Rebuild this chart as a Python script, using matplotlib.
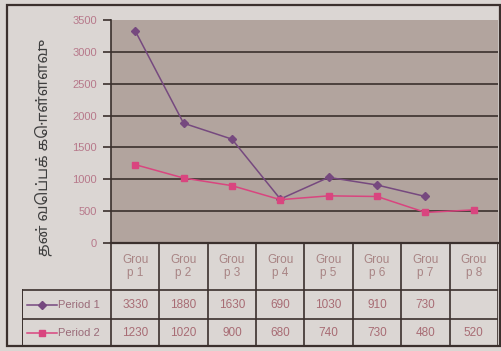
import matplotlib.pyplot as plt
from matplotlib.patches import Rectangle
import numpy as np

# data
groups = ['Grou\np 1', 'Grou\np 2', 'Grou\np 3', 'Grou\np 4',
          'Grou\np 5', 'Grou\np 6', 'Grou\np 7', 'Grou\np 8']
period1 = [3330, 1880, 1630, 690, 1030, 910, 730, np.nan]
period2 = [1230, 1020, 900, 680, 740, 730, 480, 520]
series_names = ['Period 1', 'Period 2']
yticks = [0, 500, 1000, 1500, 2000, 2500, 3000, 3500]
ylabel = 'தன் வெப்பக் கொள்ளளவு'

W, H = 502, 351
bg = '#dbd6d3'
plot_bg = '#b2a49e'
line_col = '#3b302d'
tick_col = '#b7788a'
c1 = '#76497f'
c2 = '#d9457f'

plt.rcParams['font.family'] = ['Liberation Sans', 'DejaVu Sans']

fig = plt.figure(figsize=(W / 100, H / 100), dpi=100)
fig.patch.set_facecolor(bg)


def px(x0, y0, x1, y1):
    return [x0 / W, 1 - y1 / H, (x1 - x0) / W, (y1 - y0) / H]


# outer frame
fig.patches.append(Rectangle((7 / W, 1 - 346 / H), 493 / W, 341 / H,
                             transform=fig.transFigure, fill=False,
                             ec=line_col, lw=1.6))

# main line chart
ax = fig.add_axes(px(111, 20, 498, 243))
ax.set_facecolor(plot_bg)
x = np.arange(len(groups))
ax.plot(x, period1, color=c1, lw=1.1, marker='D', ms=4, mfc=c1, mec=c1)
ax.plot(x, period2, color=c2, lw=1.1, marker='s', ms=5, mfc=c2, mec=c2)
ax.set_xlim(-0.5, len(groups) - 0.5)
ax.set_ylim(0, 3500)
ax.set_yticks(yticks)
ax.set_yticklabels([str(v) for v in yticks], color=tick_col, fontsize=8,
                   fontstretch='condensed')
ax.set_xticks([])
for v in yticks[1:-1]:
    ax.axhline(v, color=line_col, lw=1.2, zorder=1)
ax.tick_params(axis='y', length=6, width=1.2, color=line_col, pad=4)
for s in ['top', 'right']:
    ax.spines[s].set_visible(False)
ax.spines['left'].set_color(line_col)
ax.spines['left'].set_linewidth(1.2)
ax.spines['bottom'].set_color(line_col)
ax.spines['bottom'].set_linewidth(1.6)

fig.text(43 / W, 1 - 147 / H, ylabel, rotation=90, ha='center', va='center',
         fontsize=11, color='#3e3e3e',
         family=['Noto Sans Tamil', 'Lohit Tamil', 'Noto Sans', 'DejaVu Sans'])

# data table underneath
tab = fig.add_axes(px(22, 243, 498, 346))
tab.axis('off')
unit = (498 - 111) / len(groups)
left = -0.5 - (111 - 22) / unit
tab.set_xlim(left, len(groups) - 0.5)
tab.set_ylim(103, 0)
rows = [0, 47, 76, 103]

for i in range(len(groups) + 1):
    tab.plot([i - 0.5, i - 0.5], [rows[0], rows[-1]], color=line_col, lw=1.2)
tab.plot([left, left], [rows[1], rows[-1]], color=line_col, lw=1.4)
for r in rows[1:]:
    tab.plot([left, len(groups) - 0.5], [r, r], color=line_col, lw=1.2)

for i, g in enumerate(groups):
    tab.text(i, (rows[0] + rows[1]) / 2, g, ha='center', va='center',
             fontsize=8.5, color='#a88484', linespacing=1.15)

for k, (vals, col, mk) in enumerate([(period1, c1, 'D'), (period2, c2, 's')]):
    ymid = (rows[k + 1] + rows[k + 2]) / 2
    for i, v in enumerate(vals):
        if not np.isnan(v):
            tab.text(i, ymid, f'{int(v)}', ha='center', va='center',
                     fontsize=8.5, color='#a86c74')
    tab.plot([left + 0.1, left + 0.72], [ymid, ymid], color=col, lw=1.1)
    tab.plot([left + 0.41], [ymid], marker=mk, color=col,
             ms=4 if mk == 'D' else 5)
    tab.text(left + 0.74, ymid, series_names[k], ha='left', va='center',
             fontsize=8, color='#9a6a78')

fig.savefig('out.png', dpi=100, facecolor=bg)
